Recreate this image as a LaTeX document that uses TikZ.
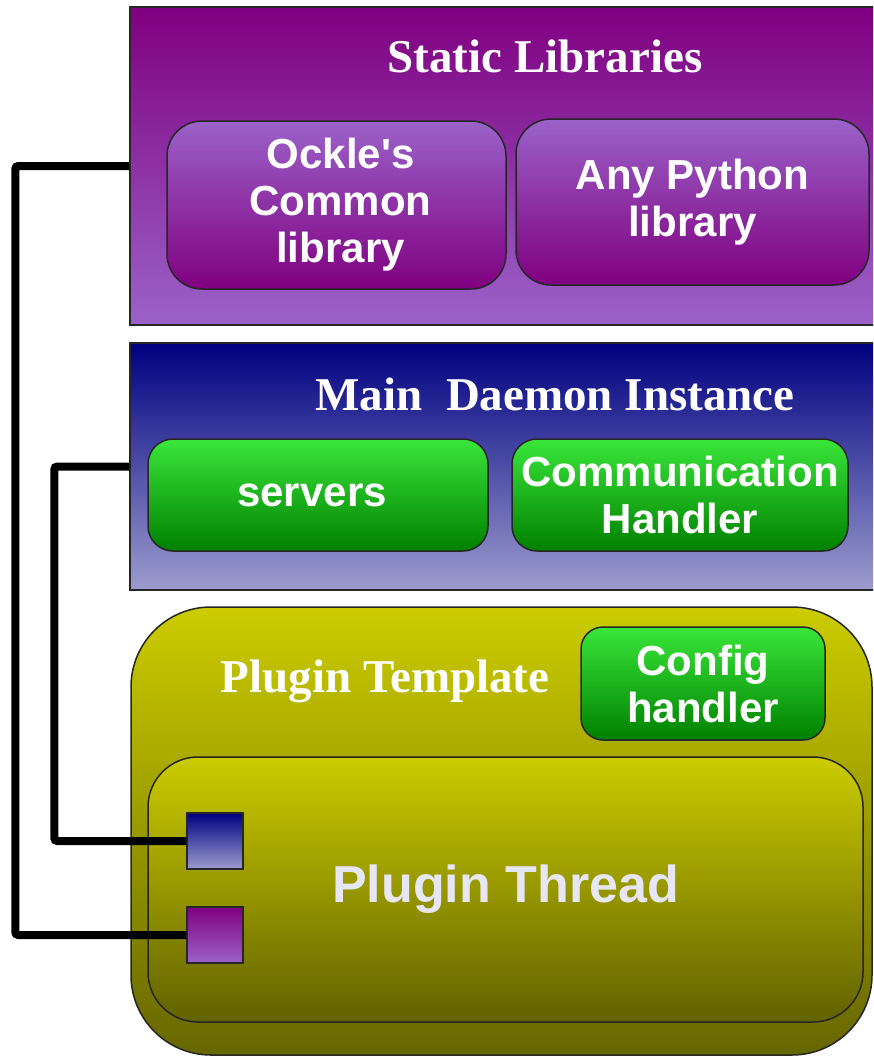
\documentclass[tikz,border=0pt]{standalone}
\usepackage{fontspec}
\setmainfont{Liberation Serif}
\setsansfont{Liberation Sans}[Ligatures=TeXOff]
\definecolor{purpD}{HTML}{800080}
\definecolor{purpL}{HTML}{9A62C9}
\definecolor{navyD}{HTML}{000080}
\definecolor{blueL}{HTML}{9C9CCE}
\definecolor{grnL}{HTML}{3AE63A}
\definecolor{grnD}{HTML}{008000}
\definecolor{olvL}{HTML}{CCCC00}
\definecolor{olvD}{HTML}{666600}
\definecolor{lav}{HTML}{E6E6F5}
\tikzset{
  layer/.style={draw=black!85, line width=1.5pt, inner sep=0pt},
  box/.style={draw=black!85, line width=1.5pt, inner sep=0pt, align=center,
    text=white, font=\sffamily\bfseries\fontsize{42}{47}\selectfont},
  title/.style={anchor=base, inner sep=0pt, text=white,
    font=\rmfamily\bfseries\fontsize{47}{50}\selectfont},
  port/.style={draw=black!85, line width=1.5pt, inner sep=0pt,
    minimum width=56pt, minimum height=56pt},
  wire/.style={line width=8pt, black, rounded corners=3pt}
}
\begin{document}
\begin{tikzpicture}[x=1pt,y=-1pt]
\useasboundingbox (0,0) rectangle (873,1057);
\clip (0,0) rectangle (873,1057);
\fill[white] (0,0) rectangle (873,1057);

% static libraries layer
\node[layer, top color=purpD, bottom color=purpL,
  minimum width=750pt, minimum height=318pt] (stat) at (505,166) {};
\node[title] (stattitle) at (545,72) {Static Libraries};
\node[box, rounded corners=35pt, top color=purpL, bottom color=purpD,
  minimum width=339pt, minimum height=168pt] (ockle) at (336.5,205)
  {\hspace*{8pt}Ockle's\\\hspace*{8pt}Common\\\hspace*{8pt}library};
\node[box, rounded corners=35pt, top color=purpL, bottom color=purpD,
  minimum width=353pt, minimum height=166pt] (pylib) at (692.5,202)
  {Any Python\\library};

% main daemon layer
\node[layer, top color=navyD, bottom color=blueL,
  minimum width=750pt, minimum height=247pt] (daemon) at (505,466.5) {};
\node[title] (daemontitle) at (555,410) {Main\ \ Daemon Instance};
\node[box, rounded corners=25pt, top color=grnL, bottom color=grnD,
  minimum width=340pt, minimum height=112pt] (servers) at (318,495)
  {servers\hspace*{12pt}};
\node[box, rounded corners=25pt, top color=grnL, bottom color=grnD,
  minimum width=336pt, minimum height=112pt] (comm) at (680,495)
  {Communication\\Handler};

% plugin template
\node[layer, rounded corners=80pt, top color=olvL, bottom color=olvD,
  minimum width=741pt, minimum height=448pt] (tmpl) at (501.5,831) {};
\node[title] (tmpltitle) at (385,692) {Plugin Template};
\node[box, rounded corners=22pt, top color=grnL, bottom color=grnD,
  minimum width=244pt, minimum height=113pt] (config) at (703,683.5)
  {Config\\handler};
\node[box, rounded corners=50pt, top color=olvL, bottom color=olvD!95!black,
  minimum width=715pt, minimum height=265pt, text=lav,
  font=\sffamily\bfseries\fontsize{52}{56}\selectfont] (thread) at (505.5,889.5)
  {Plugin Thread};

% ports of the plugin thread
\node[port, top color=navyD, bottom color=blueL] (bport) at (215,841) {};
\node[port, top color=purpD, bottom color=purpL] (pport) at (215,935) {};

% links from the layers to the ports
\draw[wire] (stat.west) -- ++(-114,0) |- (pport.west);
\draw[wire] (daemon.west) -- ++(-75,0) |- (bport.west);
\end{tikzpicture}
\end{document}
